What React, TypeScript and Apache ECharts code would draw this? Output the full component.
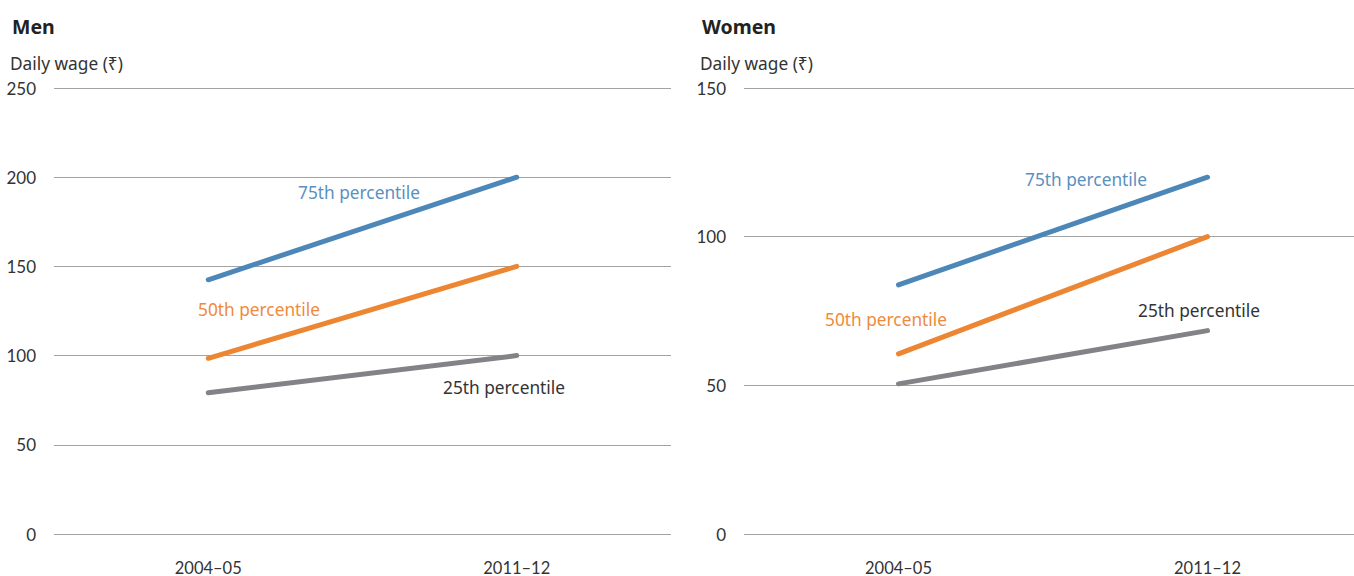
import React, { useEffect, useRef } from "react";
import * as echarts from "echarts";

const categories = ["2004–05", "2011–12"];
const menP75 = [142.5, 200];
const menP50 = [98.5, 150];
const menP25 = [79.2, 100];
const womenP75 = [83.8, 120];
const womenP50 = [60.6, 100];
const womenP25 = [50.5, 68.4];
const menTicks = { min: 0, max: 250, interval: 50 };
const womenTicks = { min: 0, max: 150, interval: 50 };

const BLUE = "#4d87b8";
const ORANGE = "#ed8633";
const GRAY = "#838387";
const FONT = "Lato, 'Noto Sans', 'DejaVu Sans', sans-serif";
const TFONT = "'Noto Sans', 'DejaVu Sans', sans-serif";

export default function App() {
  const ref = useRef<HTMLDivElement>(null);
  useEffect(() => {
    const chart = echarts.init(ref.current!, null, { renderer: "svg" });
    const yAxisCommon = {
      type: "value" as const,
      axisLine: { show: false },
      axisTick: { show: false },
      axisLabel: { color: "#333", fontSize: 17, fontFamily: FONT, margin: 18 },
      splitLine: { lineStyle: { color: "#a3a3a3", width: 1 } },
    };
    const xAxisCommon = {
      type: "category" as const,
      data: categories,
      boundaryGap: true,
      axisLine: { show: false },
      axisTick: { show: false },
      axisLabel: { color: "#333", fontSize: 16.5, fontFamily: FONT, margin: 25 },
    };
    const line = (name: string, data: number[], color: string, idx: number) => ({
      name,
      type: "line" as const,
      data,
      xAxisIndex: idx,
      yAxisIndex: idx,
      symbol: "none",
      lineStyle: { color, width: 5, cap: "round" },
      silent: true,
    });
    const txt = (text: string, x: number, y: number, color: string, extra: any = {}) => ({
      type: "text",
      x,
      y,
      style: {
        text,
        fill: color,
        fontSize: 17.3,
        fontFamily: TFONT,
        textVerticalAlign: "middle",
        ...extra,
      },
    });
    chart.setOption({
      animation: false,
      grid: [
        { left: 54, top: 88, width: 617, height: 446 },
        { left: 744, top: 88, width: 618, height: 446 },
      ],
      xAxis: [
        { ...xAxisCommon, gridIndex: 0 },
        { ...xAxisCommon, gridIndex: 1 },
      ],
      yAxis: [
        { ...yAxisCommon, gridIndex: 0, ...menTicks },
        { ...yAxisCommon, gridIndex: 1, ...womenTicks },
      ],
      series: [
        line("Men 25th", menP25, GRAY, 0),
        line("Men 50th", menP50, ORANGE, 0),
        line("Men 75th", menP75, BLUE, 0),
        line("Women 25th", womenP25, GRAY, 1),
        line("Women 50th", womenP50, ORANGE, 1),
        line("Women 75th", womenP75, BLUE, 1),
      ],
      graphic: [
        txt("Men", 12, 26, "#222", { fontSize: 19.5, fontWeight: "bold" }),
        txt("Daily wage (₹)", 10, 63, "#333"),
        txt("Women", 702, 26, "#222", { fontSize: 19.5, fontWeight: "bold" }),
        txt("Daily wage (₹)", 700, 63, "#333"),
        txt("75th percentile", 298, 192, "#5a90c0"),
        txt("50th percentile", 198, 309, "#ef8a3c"),
        txt("25th percentile", 443, 387, "#333"),
        txt("75th percentile", 1025, 179, "#5a90c0"),
        txt("50th percentile", 825, 319, "#ef8a3c"),
        txt("25th percentile", 1138, 310, "#333"),
      ],
    });
    return () => chart.dispose();
  }, []);
  return (
    <div
      style={{
        position: "absolute",
        left: 0,
        top: 0,
        width: 1354,
        height: 576,
        overflow: "hidden",
        background: "#fff",
      }}
    >
      <div ref={ref} style={{ position: "absolute", left: 0, top: 0, width: 1380, height: 576 }} />
    </div>
  );
}
